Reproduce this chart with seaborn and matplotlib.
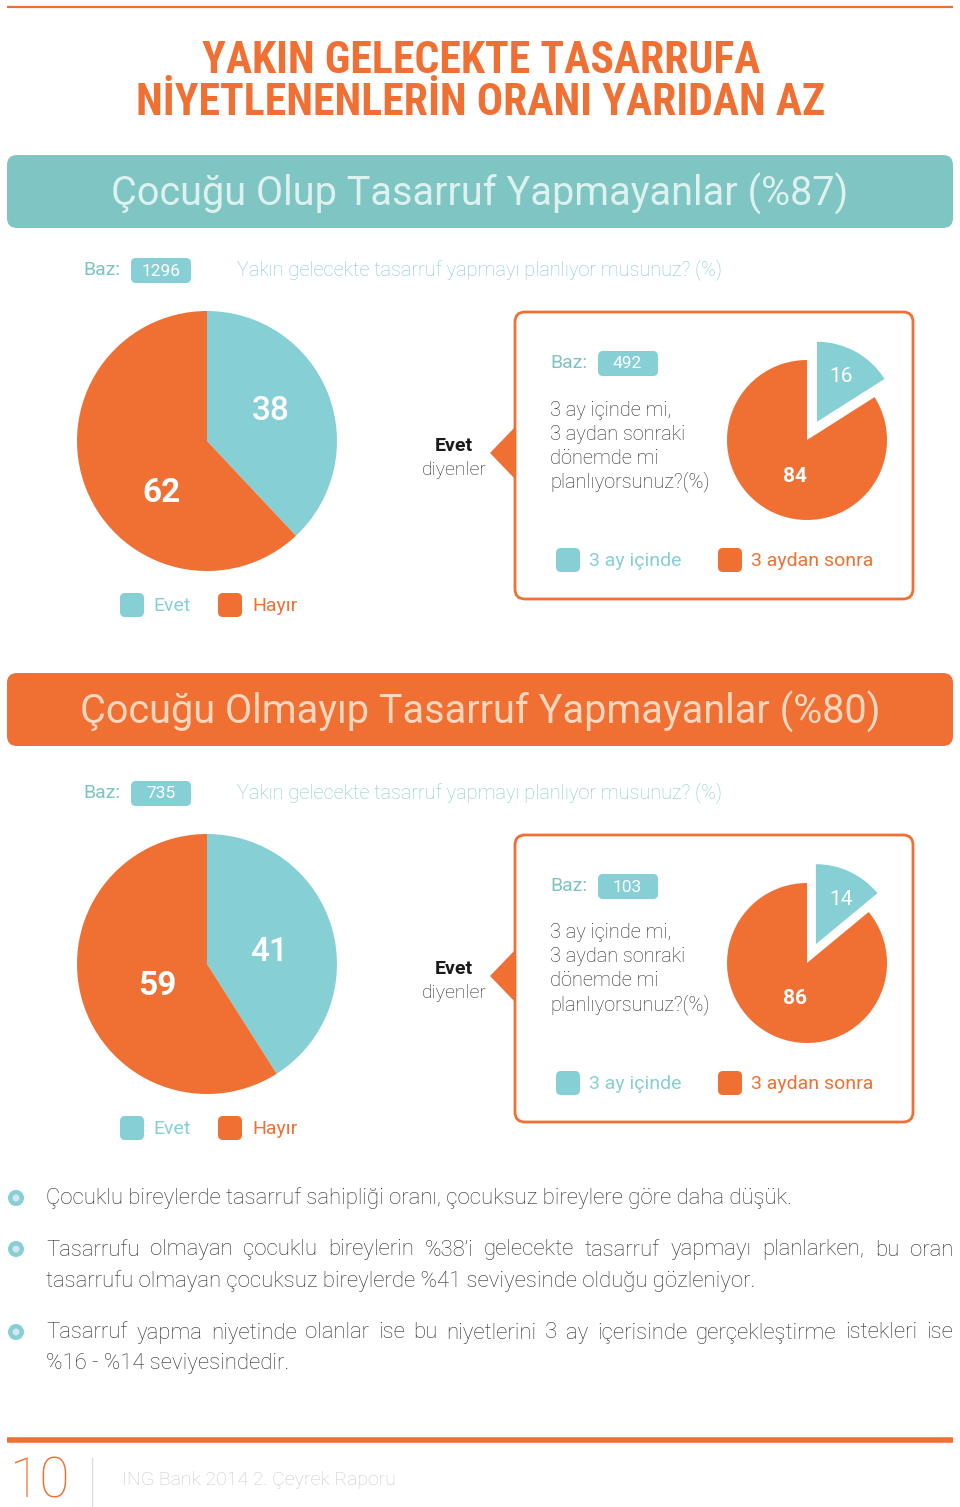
import numpy as np
import pandas as pd
import seaborn as sns
import matplotlib
matplotlib.use("Agg")
import matplotlib.pyplot as plt
from matplotlib.patches import FancyBboxPatch, Polygon, Circle

# ---------------- data ----------------
answer_labels = ["Evet", "Hayır"]
child_answers = [38, 62]
nochild_answers = [41, 59]
timing_labels = ["3 ay içinde", "3 aydan sonra"]
child_timing = [16, 84]
nochild_timing = [14, 86]
section_titles = ["Çocuğu Olup Tasarruf Yapmayanlar (%87)",
                  "Çocuğu Olmayıp Tasarruf Yapmayanlar (%80)"]
main_bases = ["1296", "735"]
timing_bases = ["492", "103"]
main_title = ["YAKIN GELECEKTE TASARRUFA", "NİYETLENENLERİN ORANI YARIDAN AZ"]
question = "Yakın gelecekte tasarruf yapmayı planlıyor musunuz? (%)"
timing_question = ["3 ay içinde mi,", "3 aydan sonraki", "dönemde mi", "planlıyorsunuz?(%)"]
bullets = [
    "Çocuklu bireylerde tasarruf sahipliği oranı, çocuksuz bireylere göre daha düşük.",
    "Tasarrufu olmayan çocuklu bireylerin %38’i gelecekte tasarruf yapmayı planlarken, bu oran "
    "tasarrufu olmayan çocuksuz bireylerde %41 seviyesinde olduğu gözleniyor.",
    "Tasarruf yapma niyetinde olanlar ise bu niyetlerini 3 ay içerisinde gerçekleştirme istekleri ise "
    "%16 - %14 seviyesindedir.",
]
footer_page = "10"
footer_text = "ING Bank 2014 2. Çeyrek Raporu"

# ---------------- style ----------------
sns.set_theme(style="white")
plt.rcParams['font.family'] = ['Roboto', 'DejaVu Sans']
TEAL = "#86CFD5"
TEAL_DARK = "#7CC3C3"
TEAL_TEXT = "#88C9C9"
ORANGE = "#F07033"
palette = sns.color_palette([TEAL, ORANGE])
COND = ['Roboto Condensed', 'Liberation Sans Narrow', 'Roboto', 'DejaVu Sans']

W, H = 960, 1507
fig = plt.figure(figsize=(W / 100, H / 100), dpi=100)
bg = fig.add_axes([0, 0, 1, 1])
bg.set_xlim(0, W)
bg.set_ylim(H, 0)
bg.axis("off")


def rrect(x0, y0, x1, y1, r, fc, ec="none", lw=0, z=1):
    p = FancyBboxPatch((x0, y0), x1 - x0, y1 - y0,
                       boxstyle=f"round,pad=0,rounding_size={r}",
                       fc=fc, ec=ec, lw=lw, zorder=z)
    bg.add_patch(p)
    return p


def pie_axes(cx, cy, r, lim):
    half = r * lim
    ax = fig.add_axes([(cx - half) / W, 1 - (cy + half) / H, 2 * half / W, 2 * half / H])
    return ax


def fix_limits(ax, lim):
    ax.set_xlim(-lim, lim)
    ax.set_ylim(-lim, lim)
    ax.set_aspect("equal")
    ax.axis("off")


# top line
bg.plot([7, 953], [7, 7], color=ORANGE, lw=1.6, solid_capstyle="butt")

# main title
for i, line in enumerate(main_title):
    bg.text(481, 61 + 42 * i, line, ha="center", va="center", color=ORANGE,
            fontsize=31.5, fontweight="bold", family=COND)

renderer = fig.canvas.get_renderer()


def draw_section(off, title, banner_color, title_color, base, tbase, answers, timing, lbl_pos):
    # banner
    rrect(7, 155 + off, 953, 228 + off, 10, banner_color, z=1)
    bg.text(480, 194 + off, title, ha="center", va="center", color=title_color,
            fontsize=28.5, fontweight="normal")
    o2 = off + (5 if off else 0)
    # baz line
    bg.text(83, 270 + o2, "Baz:", ha="left", va="center", color=TEAL_DARK, fontsize=14)
    rrect(131, 258 + o2, 191, 283 + o2, 5, TEAL, z=2)
    bg.text(161, 271 + o2, base, ha="center", va="center", color="white", fontsize=12.5,
            zorder=3)
    bg.text(237, 270 + o2, question, ha="left", va="center", color=TEAL_TEXT,
            fontsize=14.4, fontweight="light")

    # main pie
    ax = pie_axes(207, 441 + o2, 130, 1.0)
    ax.pie(answers, colors=palette, startangle=90, counterclock=False, radius=1.0,
           wedgeprops=dict(linewidth=0))
    fix_limits(ax, 1.0)
    (p1, s1, w1), (p2, s2, w2) = lbl_pos
    ax.text(p1[0], p1[1], str(answers[0]), ha="center", va="center", color="white",
            fontsize=s1, fontweight=w1)
    ax.text(p2[0], p2[1], str(answers[1]), ha="center", va="center", color="white",
            fontsize=s2, fontweight=w2)

    # legend under main pie
    rrect(120, 593 + o2, 144, 617 + o2, 5, TEAL, z=2)
    bg.text(153, 606 + o2, answer_labels[0], ha="left", va="center", color=TEAL, fontsize=14)
    rrect(218, 593 + o2, 242, 617 + o2, 5, ORANGE, z=2)
    bg.text(252, 606 + o2, answer_labels[1], ha="left", va="center", color=ORANGE, fontsize=14)

    # Evet diyenler
    bg.text(454, 446 + o2, "Evet", ha="center", va="center", color="#1a1a1a",
            fontsize=14, fontweight="bold")
    bg.text(454, 470 + o2, "diyenler", ha="center", va="center", color="#2a2a2a",
            fontsize=14, fontweight="light")

    # box with pointer
    rrect(515, 312 + o2, 913, 599 + o2, 10, "white", ec=ORANGE, lw=2, z=2)
    bg.add_patch(Polygon([[490, 453 + o2], [516, 426 + o2], [516, 480 + o2]],
                         closed=True, fc=ORANGE, ec="none", zorder=3))
    bg.text(550, 363 + o2, "Baz:", ha="left", va="center", color=TEAL_DARK, fontsize=14, zorder=4)
    rrect(598, 351 + o2, 658, 376 + o2, 5, TEAL, z=4)
    bg.text(627, 364 + o2, tbase, ha="center", va="center", color="white", fontsize=12.5,
            zorder=5)
    for j, ln in enumerate(timing_question):
        bg.text(550, 410 + 24 * j + o2, ln, ha="left", va="center", color="#2a2a2a",
                fontsize=14.4, fontweight="light", zorder=4)

    # small pie
    sax = pie_axes(807, 440 + o2, 80, 1.35)
    sax.pie(timing, colors=palette, startangle=90, counterclock=False, radius=1.0,
            explode=[0.26, 0], wedgeprops=dict(linewidth=0))
    fix_limits(sax, 1.35)
    sax.text(0.42, 0.79, str(timing[0]), ha="center", va="center", color="white",
             fontsize=15)
    sax.text(-0.15, -0.45, str(timing[1]), ha="center", va="center", color="white",
             fontsize=15, fontweight="bold")

    # legend inside box
    rrect(556, 548 + o2, 580, 572 + o2, 5, TEAL, z=4)
    bg.text(589, 561 + o2, timing_labels[0], ha="left", va="center", color=TEAL,
            fontsize=14, zorder=4)
    rrect(718, 548 + o2, 742, 572 + o2, 5, ORANGE, z=4)
    bg.text(751, 561 + o2, timing_labels[1], ha="left", va="center", color=ORANGE,
            fontsize=14, zorder=4)


draw_section(0, section_titles[0], "#7EC5C4", "#DDF1EF", main_bases[0], timing_bases[0],
             child_answers, child_timing,
             [((0.49, 0.23), 24, "medium"), ((-0.35, -0.40), 24, "bold")])
draw_section(518, section_titles[1], ORANGE, "#FCD7BF", main_bases[1], timing_bases[1],
             nochild_answers, nochild_timing,
             [((0.48, 0.09), 24, "medium"), ((-0.38, -0.17), 24, "bold")])

# ---------------- bullets ----------------
BODY = dict(fontsize=15.9, fontweight="light", color="#2b2b2b")
X0, X1 = 46, 953


def justified_line(words, y):
    ts = [bg.text(0, y, w, ha="left", va="center", **BODY) for w in words]
    widths = [t.get_window_extent(renderer).width for t in ts]
    gap = (X1 - X0 - sum(widths)) / max(len(words) - 1, 1)
    x = X0
    for t, w in zip(ts, widths):
        t.set_x(x)
        x += w + gap


def bullet(y):
    bg.add_patch(Circle((16, y), 8, fc=TEAL, ec="none", zorder=2))
    bg.add_patch(Circle((16, y), 3.5, fc="#D8E4F0", ec="none", zorder=3))


bullet(1198)
bg.text(X0, 1198, bullets[0], ha="left", va="center", **BODY)

b2 = bullets[1].split(" ")
bullet(1249)
justified_line(b2[:11], 1250)
bg.text(X0, 1281, " ".join(b2[11:]), ha="left", va="center", **BODY)

b3 = bullets[2].split(" ")
bullet(1332)
justified_line(b3[:13], 1333)
bg.text(X0, 1364, " ".join(b3[13:]), ha="left", va="center", **BODY)

# ---------------- footer ----------------
bg.plot([7, 953], [1440, 1440], color=ORANGE, lw=4, solid_capstyle="butt")
bg.text(40, 1482, footer_page, ha="center", va="center", color=ORANGE, fontsize=40,
        fontweight="ultralight")
bg.plot([92, 92], [1458, 1507], color="#dddddd", lw=1)
bg.text(122, 1480, footer_text, ha="left", va="center", color="#c8c8c8", fontsize=14,
        fontweight="light")

fig.savefig("out.png", dpi=100)
